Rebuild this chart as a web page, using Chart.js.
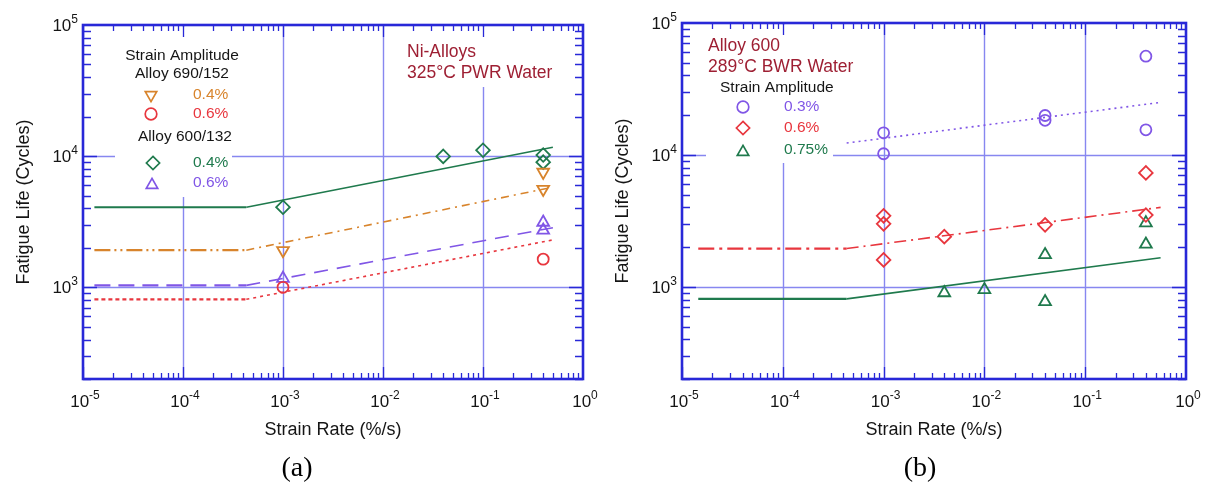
<!DOCTYPE html>
<html>
<head>
<meta charset="utf-8">
<script src="https://cdn.jsdelivr.net/npm/chart.js@4.4.1/dist/chart.umd.min.js"></script>
<style>
  body { margin: 0; background: #fff; }
  #wrap { position: relative; width: 1208px; height: 487px; }
  .panel { position: absolute; top: 0; }
</style>
</head>
<body>
<div id="wrap">
  <canvas id="chartA" class="panel" style="left:0" width="604" height="487"></canvas>
  <canvas id="chartB" class="panel" style="left:604px" width="604" height="487"></canvas>
</div>
<script>
// Axis decades
const rateTicks = [1e-5, 1e-4, 1e-3, 1e-2, 1e-1, 1];
const rateExponents = ['-5', '-4', '-3', '-2', '-1', '0'];
const lifeTicks = [1e3, 1e4, 1e5];
const lifeExponents = ['3', '4', '5'];

// (a) Ni-alloys in 325°C PWR water
const a690_04_rate = [0.001, 0.4, 0.4];
const a690_04_life = [1910, 7550, 5600];
const a690_06_rate = [0.001, 0.4];
const a690_06_life = [1000, 1640];
const a600_04_rate = [0.001, 0.04, 0.1, 0.4, 0.4];
const a600_04_life = [4080, 9950, 11100, 10200, 9000];
const a600_06_rate = [0.001, 0.4, 0.4];
const a600_06_life = [1170, 3130, 2720];

const aFitRate = [1.3e-5, 4.3e-4, 0.5];
const a600_04_fit = [4080, 4080, 11700];
const a690_04_fit = [1920, 1920, 5800];
const a600_06_fit = [1035, 1035, 2850];
const a690_06_fit = [810, 810, 2300];

// (b) Alloy 600 in 289°C BWR water
const b03_rate = [0.001, 0.001, 0.04, 0.04, 0.4, 0.4];
const b03_life = [14700, 10200, 19900, 18300, 56000, 15500];
const b06_rate = [0.001, 0.001, 0.001, 0.004, 0.04, 0.4, 0.4];
const b06_life = [3450, 3000, 1600, 2400, 2950, 7300, 3500];
const b075_rate = [0.004, 0.01, 0.04, 0.04, 0.4, 0.4];
const b075_life = [900, 950, 1750, 770, 3050, 2100];

const bFitRate = [1.45e-5, 4.3e-4, 0.56];
const b03_fitRate = [4.3e-4, 0.56];
const b03_fit = [12300, 25000];
const b06_fit = [1950, 1950, 4000];
const b075_fit = [810, 810, 1660];

const BLUE = '#2828d8';
const GRID = '#8787f0';
const ORANGE = '#d8842c';
const RED = '#e8363e';
const GREEN = '#1f7a4d';
const PURPLE = '#8056e6';
const MAROON = '#9e1f33';
const SANS = '"Liberation Sans", Arial, sans-serif';

function points(rate, life) {
  return rate.map((r, i) => ({ x: r, y: life[i] }));
}

function markerSet(label, rate, life, color, style, rotation) {
  return {
    label: label,
    data: points(rate, life),
    showLine: false,
    pointStyle: style,
    rotation: rotation || 0,
    pointRadius: style === 'circle' ? 5.5 : 6.8,
    pointBorderWidth: 1.8,
    pointBorderColor: color,
    pointBackgroundColor: 'rgba(0,0,0,0)',
    borderColor: color
  };
}

// flat part up to the knee, then the rising part
function fitSet(label, rate, life, color, flatDash, slopeDash) {
  const hasFlat = rate.length === 3;
  return {
    label: label,
    data: points(rate, life),
    showLine: true,
    pointRadius: 0,
    borderColor: color,
    borderWidth: 2,
    segment: {
      borderDash: ctx => (hasFlat && ctx.p0DataIndex === 0) ? flatDash : slopeDash,
      borderWidth: ctx => (hasFlat && ctx.p0DataIndex === 0) ? 2.2 : 1.6
    }
  };
}

function drawMarker(ctx, style, x, y, color) {
  const r = style === 'circle' ? 5.8 : 6.6;
  ctx.save();
  ctx.strokeStyle = color;
  ctx.lineWidth = 1.7;
  ctx.beginPath();
  if (style === 'circle') {
    ctx.arc(x, y, r, 0, Math.PI * 2);
  } else if (style === 'up' || style === 'down') {
    const s = style === 'up' ? 1 : -1;
    ctx.moveTo(x, y - s * r);
    ctx.lineTo(x + r * 0.866, y + s * r * 0.5);
    ctx.lineTo(x - r * 0.866, y + s * r * 0.5);
    ctx.closePath();
  } else {
    ctx.moveTo(x, y - r);
    ctx.lineTo(x + r, y);
    ctx.lineTo(x, y + r);
    ctx.lineTo(x - r, y);
    ctx.closePath();
  }
  ctx.stroke();
  ctx.restore();
}

function powerLabel(ctx, exp, x, y, align) {
  ctx.font = '17px ' + SANS;
  const wb = ctx.measureText('10').width;
  ctx.font = '12px ' + SANS;
  const we = ctx.measureText(exp).width;
  const x0 = align === 'center' ? x - (wb + we) / 2 + 2 : x - (wb + we);
  ctx.fillStyle = '#151515';
  ctx.textAlign = 'left';
  ctx.textBaseline = 'alphabetic';
  ctx.font = '17px ' + SANS;
  ctx.fillText('10', x0, y);
  ctx.font = '12px ' + SANS;
  ctx.fillText(exp, x0 + wb, y - 8);
}

function text(ctx, str, x, y, size, color, align) {
  ctx.font = size + 'px ' + SANS;
  ctx.fillStyle = color;
  ctx.textAlign = align || 'left';
  ctx.textBaseline = 'middle';
  ctx.fillText(str, x, y);
}

// gridlines, frame, inside ticks, labels and the in-plot key
function decorPlugin(decor) {
  return {
    id: 'decor',
    beforeDatasetsDraw(chart) {
      const ctx = chart.ctx, a = chart.chartArea;
      const xs = chart.scales.x, ys = chart.scales.y;
      ctx.save();
      ctx.strokeStyle = GRID;
      ctx.lineWidth = 1.4;
      rateTicks.slice(1, -1).forEach(v => {
        const px = Math.round(xs.getPixelForValue(v)) + 0.5;
        ctx.beginPath(); ctx.moveTo(px, a.top); ctx.lineTo(px, a.bottom); ctx.stroke();
      });
      lifeTicks.slice(0, -1).forEach(v => {
        const py = Math.round(ys.getPixelForValue(v)) + 0.5;
        ctx.beginPath(); ctx.moveTo(a.left, py); ctx.lineTo(a.right, py); ctx.stroke();
      });
      ctx.fillStyle = '#fff';
      decor.covers.forEach(c => ctx.fillRect(c[0], c[1], c[2], c[3]));
      ctx.restore();
    },
    afterDatasetsDraw(chart) {
      const ctx = chart.ctx, a = chart.chartArea;
      const xs = chart.scales.x, ys = chart.scales.y;
      ctx.save();
      ctx.strokeStyle = BLUE;
      ctx.lineWidth = 1.3;
      // minor ticks on x
      for (let d = 1e-5; d < 1; d *= 10) {
        for (let m = 1; m <= 9; m++) {
          const px = Math.round(xs.getPixelForValue(m * d)) + 0.5;
          const len = m === 1 ? 12 : 6;
          ctx.beginPath();
          ctx.moveTo(px, a.bottom); ctx.lineTo(px, a.bottom - len);
          ctx.moveTo(px, a.top); ctx.lineTo(px, a.top + len);
          ctx.stroke();
        }
      }
      // minor ticks on y
      for (let d = 100; d < 1e5; d *= 10) {
        for (let m = 1; m <= 9; m++) {
          const v = m * d;
          if (v < 200) continue;
          const py = Math.round(ys.getPixelForValue(v)) + 0.5;
          const len = m === 1 ? 14 : 8;
          ctx.beginPath();
          ctx.moveTo(a.left, py); ctx.lineTo(a.left + len, py);
          ctx.moveTo(a.right, py); ctx.lineTo(a.right - len, py);
          ctx.stroke();
        }
      }
      ctx.lineWidth = 2.6;
      ctx.strokeRect(a.left, a.top, a.right - a.left, a.bottom - a.top);

      // tick labels
      rateTicks.forEach((v, i) => powerLabel(ctx, rateExponents[i], xs.getPixelForValue(v), a.bottom + 28, 'center'));
      lifeTicks.forEach((v, i) => powerLabel(ctx, lifeExponents[i], a.left - 5, ys.getPixelForValue(v) + 6, 'right'));

      // axis titles
      text(ctx, 'Strain Rate (%/s)', (a.left + a.right) / 2, a.bottom + 51, 18, '#151515', 'center');
      ctx.save();
      ctx.translate(a.left - 59, (a.top + a.bottom) / 2);
      ctx.rotate(-Math.PI / 2);
      text(ctx, 'Fatigue Life (Cycles)', 0, 0, 18, '#151515', 'center');
      ctx.restore();

      // key and annotations
      decor.texts.forEach(t => text(ctx, t[0], t[1], t[2], t[3], t[4], t[5]));
      decor.markers.forEach(m => drawMarker(ctx, m[0], m[1], m[2], m[3]));

      // panel caption
      ctx.font = '28px "Liberation Serif", "Times New Roman", serif';
      ctx.fillStyle = '#000';
      ctx.textAlign = 'center';
      ctx.textBaseline = 'middle';
      ctx.fillText(decor.caption, decor.captionX, 469);
      ctx.restore();
    }
  };
}

function makePanel(id, datasets, padding, decor) {
  new Chart(document.getElementById(id), {
    type: 'scatter',
    data: { datasets: datasets },
    options: {
      responsive: false,
      animation: false,
      layout: { padding: padding },
      plugins: { legend: { display: false }, tooltip: { enabled: false } },
      scales: {
        x: { type: 'logarithmic', min: 1e-5, max: 1, display: false },
        y: { type: 'logarithmic', min: 200, max: 1e5, display: false }
      }
    },
    plugins: [decorPlugin(decor)]
  });
}

makePanel('chartA', [
  markerSet('Alloy 690/152 0.4%', a690_04_rate, a690_04_life, ORANGE, 'triangle', 180),
  markerSet('Alloy 690/152 0.6%', a690_06_rate, a690_06_life, RED, 'circle'),
  markerSet('Alloy 600/132 0.4%', a600_04_rate, a600_04_life, GREEN, 'rectRot'),
  markerSet('Alloy 600/132 0.6%', a600_06_rate, a600_06_life, PURPLE, 'triangle'),
  fitSet('600/132 0.4% fit', aFitRate, a600_04_fit, GREEN, [], []),
  fitSet('690/152 0.4% fit', aFitRate, a690_04_fit, ORANGE, [16, 4, 2, 4, 2, 4], [8, 5, 2, 5]),
  fitSet('600/132 0.6% fit', aFitRate, a600_06_fit, PURPLE, [16, 8], [14, 9]),
  fitSet('690/152 0.6% fit', aFitRate, a690_06_fit, RED, [4, 3], [3, 4])
], { left: 83, right: 21, top: 25, bottom: 108 }, {
  covers: [[115, 27, 117, 170], [400, 27, 160, 60]],
  texts: [
    ['Strain Amplitude', 182, 56, 15.5, '#151515', 'center'],
    ['Alloy 690/152', 182, 74, 15.5, '#151515', 'center'],
    ['0.4%', 193, 95, 15.5, ORANGE],
    ['0.6%', 193, 114, 15.5, RED],
    ['Alloy 600/132', 185, 137, 15.5, '#151515', 'center'],
    ['0.4%', 193, 163, 15.5, GREEN],
    ['0.6%', 193, 183, 15.5, PURPLE],
    ['Ni-Alloys', 407, 52, 17.5, MAROON],
    ['325°C PWR Water', 407, 73, 17.5, MAROON]
  ],
  markers: [
    ['down', 151, 95, ORANGE],
    ['circle', 151, 114, RED],
    ['diamond', 153, 163, GREEN],
    ['up', 152, 185, PURPLE]
  ],
  caption: '(a)',
  captionX: 297
});

makePanel('chartB', [
  markerSet('0.3%', b03_rate, b03_life, PURPLE, 'circle'),
  markerSet('0.6%', b06_rate, b06_life, RED, 'rectRot'),
  markerSet('0.75%', b075_rate, b075_life, GREEN, 'triangle'),
  fitSet('0.3% fit', b03_fitRate, b03_fit, PURPLE, [2, 4], [2, 4]),
  fitSet('0.6% fit', bFitRate, b06_fit, RED, [16, 5, 3, 5], [12, 5, 2, 5]),
  fitSet('0.75% fit', bFitRate, b075_fit, GREEN, [], [])
], { left: 78, right: 22, top: 23, bottom: 108 }, {
  covers: [[102, 25, 127, 138]],
  texts: [
    ['Alloy 600', 104, 46, 17.5, MAROON],
    ['289°C BWR Water', 104, 67, 17.5, MAROON],
    ['Strain Amplitude', 116, 88, 15.5, '#151515'],
    ['0.3%', 180, 107, 15.5, PURPLE],
    ['0.6%', 180, 128, 15.5, RED],
    ['0.75%', 180, 150, 15.5, GREEN]
  ],
  markers: [
    ['circle', 139, 107, PURPLE],
    ['diamond', 139, 128, RED],
    ['up', 139, 152, GREEN]
  ],
  caption: '(b)',
  captionX: 316
});
</script>
</body>
</html>
